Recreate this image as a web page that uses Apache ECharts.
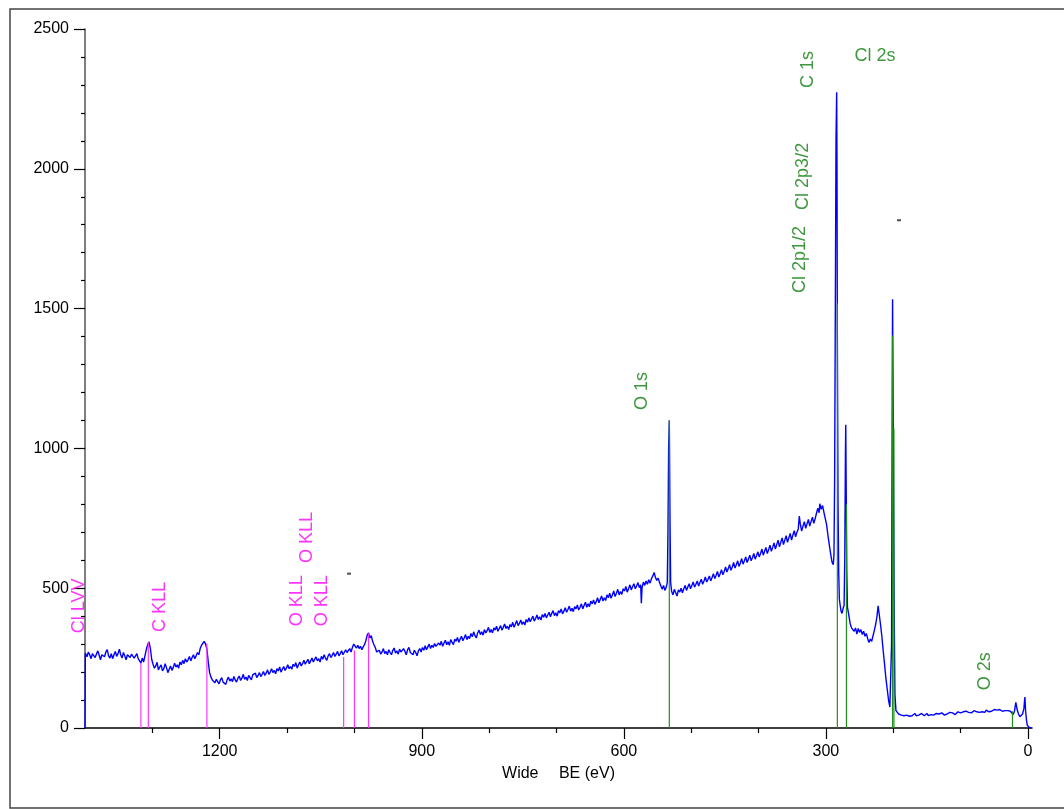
<!DOCTYPE html>
<html><head><meta charset="utf-8">
<script src="https://cdn.jsdelivr.net/npm/echarts@6/dist/echarts.min.js"></script>
<style>html,body{margin:0;padding:0;background:#fff}#c{width:1064px;height:809px}</style>
</head><body><div id="c"></div><script>
// Wide XPS spectrum: [binding energy eV, counts]
const spectrumPoints = [
[1400,0],[1399.5,268],[1397,255],[1395,272],[1393,262],[1391,248],[1389,266],[1387,270],[1385,252],[1383,258],[1381,276],[1379,260],[1377,244],[1375,262],[1373,268],[1371,255],[1369,272],[1367,280],[1365,258],[1363,250],[1361,266],[1359,248],[1357,262],[1355,274],[1353,256],[1351,266],[1349,282],[1347,262],[1345,250],[1343,270],[1341,258],[1339,244],[1337,262],[1335,268],[1333,252],[1331,264],[1329,270],[1327,250],[1325,258],[1323,266],[1321,248],[1319,240],[1317,232],[1315,250],[1313,236],[1311,258],[1309,280],[1307,298],[1305,308],[1303,286],[1301,246],[1299,228],[1297,214],[1295,222],[1293,235],[1291,208],[1289,218],[1287,226],[1285,204],[1283,212],[1281,230],[1279,216],[1277,198],[1275,210],[1273,222],[1271,206],[1269,216],[1267,232],[1265,218],[1263,226],[1261,214],[1259,236],[1257,226],[1255,242],[1253,230],[1251,248],[1249,236],[1247,244],[1245,256],[1243,240],[1241,252],[1239,262],[1237,248],[1235,258],[1233,270],[1231,262],[1229,284],[1227,296],[1225,290],[1223,310],[1221,300],[1219,282],[1217,236],[1215,198],[1213,182],[1211,172],[1209,178],[1207,162],[1205,174],[1203,168],[1201,158],[1199,172],[1197,180],[1195,164],[1193,170],[1191,156],[1189,172],[1187,182],[1185,168],[1183,176],[1181,166],[1179,184],[1177,172],[1175,164],[1173,178],[1171,186],[1169,170],[1167,178],[1165,192],[1163,174],[1161,182],[1159,170],[1157,188],[1155,180],[1153,172],[1151,190],[1149,184],[1147,196],[1145,180],[1143,188],[1141,198],[1139,184],[1137,192],[1135,202],[1133,188],[1131,196],[1129,208],[1127,192],[1125,200],[1123,212],[1121,198],[1119,206],[1117,194],[1115,212],[1113,204],[1111,218],[1109,200],[1107,210],[1105,220],[1103,206],[1101,214],[1099,226],[1097,212],[1095,220],[1093,210],[1091,228],[1089,220],[1087,234],[1085,214],[1083,226],[1081,236],[1079,222],[1077,230],[1075,242],[1073,228],[1071,234],[1069,246],[1067,230],[1065,240],[1063,250],[1061,236],[1059,246],[1057,254],[1055,240],[1053,248],[1051,236],[1049,256],[1047,246],[1045,262],[1043,250],[1041,242],[1039,258],[1037,266],[1035,252],[1033,260],[1031,270],[1029,256],[1027,264],[1025,274],[1023,258],[1021,266],[1019,276],[1017,262],[1015,268],[1013,280],[1011,270],[1009,276],[1007,284],[1005,272],[1003,288],[1001,300],[999,294],[997,286],[995,296],[993,284],[991,292],[989,280],[987,290],[985,298],[983,312],[981,332],[979,340],[977,322],[975,330],[973,310],[971,298],[969,288],[967,272],[965,266],[963,278],[961,264],[959,272],[957,284],[955,266],[953,274],[951,262],[949,280],[947,270],[945,262],[943,278],[941,286],[939,268],[937,276],[935,264],[933,282],[931,272],[929,266],[927,284],[925,274],[923,262],[921,280],[919,288],[917,270],[915,276],[913,262],[911,278],[909,270],[907,258],[905,276],[903,284],[901,272],[899,288],[897,278],[895,294],[893,280],[891,290],[889,300],[887,284],[885,296],[883,288],[881,302],[879,292],[877,286],[875,304],[873,296],[871,310],[869,292],[867,304],[865,314],[863,298],[861,308],[859,296],[857,316],[855,306],[853,298],[851,318],[849,310],[847,324],[845,306],[843,318],[841,328],[839,312],[837,322],[835,334],[833,316],[831,328],[829,320],[827,338],[825,326],[823,344],[821,330],[819,322],[817,340],[815,350],[813,334],[811,344],[809,332],[807,352],[805,340],[803,348],[801,360],[799,342],[797,352],[795,340],[793,358],[791,350],[789,364],[787,346],[785,356],[783,366],[781,350],[779,360],[777,372],[775,356],[773,364],[771,352],[769,370],[767,362],[765,378],[763,360],[761,372],[759,384],[757,366],[755,374],[753,386],[751,370],[749,380],[747,368],[745,388],[743,378],[741,394],[739,380],[737,390],[735,400],[733,382],[731,392],[729,404],[727,388],[725,398],[723,386],[721,406],[719,396],[717,410],[715,394],[713,404],[711,414],[709,398],[707,410],[705,420],[703,402],[701,412],[699,400],[697,420],[695,412],[693,426],[691,408],[689,418],[687,430],[685,414],[683,424],[681,436],[679,418],[677,428],[675,416],[673,434],[671,426],[669,440],[667,422],[665,432],[663,444],[661,426],[659,438],[657,450],[655,432],[653,444],[651,434],[649,454],[647,444],[645,458],[643,442],[641,452],[639,466],[637,448],[635,460],[633,472],[631,454],[629,466],[627,456],[625,476],[623,466],[621,482],[619,464],[617,476],[615,490],[613,470],[611,482],[609,496],[607,476],[605,488],[603,478],[601,498],[599,490],[597,506],[595,486],[593,498],[591,512],[589,494],[587,506],[585,516],[583,498],[581,508],[579,520],[577,502],[575,512],[574,446],[573,500],[571,522],[569,510],[567,526],[565,514],[563,530],[561,518],[559,534],[557,544],[555,556],[553,538],[551,528],[549,536],[547,520],[545,508],[543,496],[541,510],[539,492],[537,504],[535.5,520],[534.5,700],[533.5,1000],[532.5,1100],[531.5,760],[530.5,520],[529,488],[527,476],[525,496],[523,484],[521,472],[519,494],[517,486],[515,500],[513,484],[511,498],[509,510],[507,492],[505,504],[503,516],[501,498],[499,510],[497,522],[495,504],[493,514],[491,526],[489,508],[487,520],[485,532],[483,514],[481,526],[479,540],[477,522],[475,532],[473,544],[471,526],[469,538],[467,552],[465,534],[463,546],[461,560],[459,540],[457,552],[455,566],[453,548],[451,560],[449,576],[447,558],[445,570],[443,584],[441,564],[439,576],[437,592],[435,572],[433,584],[431,598],[429,578],[427,590],[425,606],[423,586],[421,598],[419,612],[417,592],[415,604],[413,618],[411,598],[409,610],[407,624],[405,604],[403,616],[401,630],[399,612],[397,624],[395,640],[393,618],[391,632],[389,646],[387,624],[385,638],[383,654],[381,632],[379,646],[377,662],[375,640],[373,656],[371,672],[369,648],[367,664],[365,680],[363,656],[361,672],[359,688],[357,664],[355,680],[353,696],[351,672],[349,690],[347,706],[345,684],[343,700],[341,712],[339.5,758],[338,730],[336,704],[334,722],[332,738],[330,714],[328,730],[326,746],[324,722],[322,738],[320,754],[318,732],[316,748],[314,768],[312,786],[310,770],[309,802],[307,782],[305,796],[303,772],[301,750],[299,728],[297,690],[295,656],[293,624],[291,594],[289,584],[288,620],[287,900],[286,1500],[285,2100],[284,2274],[283.5,2000],[283,1400],[282,800],[281,560],[280,460],[279,442],[277.5,418],[276,410],[274.5,428],[273,438],[272,600],[271,980],[270.5,1085],[270,900],[269,560],[268,432],[266,404],[264,374],[262,358],[260,364],[258,346],[256,358],[254,336],[252,356],[250,342],[248,352],[246,334],[244,346],[242,328],[240,338],[238,320],[236,306],[234,318],[232,310],[230,330],[228,350],[226,372],[224,402],[222.5,437],[221,410],[219,372],[217,330],[215,278],[213,230],[211,180],[209,140],[207,100],[205,75],[203.5,70],[202.5,300],[201.5,1200],[201,1533],[200.5,1300],[199.5,800],[198.5,400],[197.5,120],[196,62],[194,56],[192,50],[190,54],[188,46],[186,52],[184,44],[182,50],[180,46],[178,52],[176,42],[174,48],[172,44],[170,50],[168,52],[166,44],[164,50],[162,46],[160,44],[158,52],[156,48],[154,44],[152,50],[150,52],[148,44],[146,50],[144,48],[142,54],[140,46],[138,50],[136,52],[134,46],[132,50],[130,48],[128,54],[126,50],[124,46],[122,52],[120,50],[118,48],[116,56],[114,50],[112,54],[110,50],[108,48],[106,54],[104,58],[102,52],[100,54],[98,50],[96,58],[94,54],[92,60],[90,54],[88,56],[86,60],[84,54],[82,56],[80,62],[78,56],[76,58],[74,62],[72,56],[70,60],[68,58],[66,62],[64,56],[62,64],[60,60],[58,58],[56,64],[54,60],[52,62],[50,66],[48,60],[46,64],[44,60],[42,66],[40,62],[38,60],[36,66],[34,62],[32,64],[30,62],[28,64],[26,60],[24,58],[22,48],[20,60],[18,92],[16,65],[14,50],[12,40],[10,38],[8,50],[6,70],[5,100],[4.5,111],[3.5,60],[2,25],[1,10],[0,4],[-2,2],[-5,0]
];
const xMajorTicks = [0, 300, 600, 900, 1200];
const xMinorTicks = [100, 200, 400, 500, 700, 800, 1000, 1100, 1300];
const magentaLineBE = [1317, 1306, 1219, 1016, 1000, 979];
const magentaLineTop = [233, 308, 302, 254, 278, 338];
const greenLineBE = [532.5, 283, 269.5, 201, 199, 23];
const greenLineTop = [1100, 1518, 800, 1404, 1071, 60];
const magentaLabels = ['Cl LVV', 'C KLL', 'O KLL', 'O KLL', 'O KLL'];
const magentaLabelBE = [1409.6, 1288.7, 1085.3, 1070.4, 1048.1];
const magentaLabelY = [339, 343, 364, 590, 364];
const greenLabels = ['O 1s', 'C 1s', 'Cl 2p3/2', 'Cl 2p1/2', 'O 2s'];
const greenLabelBE = [573.5, 326.6, 334, 338.5, 63.8];
const greenLabelY = [1137, 2289, 1853, 1556, 135];
const flatLabels = ['Cl 2s'];
const flatLabelBE = [227.1];
const flatLabelY = [2404];
const dashMarks = [[1008, 552], [191.5, 1816]];

const FONT = 'Liberation Sans, Arial, sans-serif';
const GREEN_TEXT = '#0d7d0d';
const chart = echarts.init(document.getElementById('c'), null, {renderer: 'canvas'});

function vlineSeries(be, top, color) {
  return {
    type: 'custom', xAxisIndex: 0, yAxisIndex: 0, z: 4, silent: true, clip: false,
    data: be.map((b, i) => [b, top[i]]),
    encode: {x: 0, y: 1},
    renderItem: (params, api) => {
      const p0 = api.coord([api.value(0), 0]);
      const p1 = api.coord([api.value(0), api.value(1)]);
      return {type: 'line', shape: {x1: p0[0], y1: p0[1], x2: p1[0], y2: p1[1]},
              style: {stroke: color, lineWidth: 1.2}};
    }
  };
}
function labelSeries(texts, be, ys, color, rotate) {
  return {
    type: 'scatter', xAxisIndex: 0, yAxisIndex: 0, z: 6, silent: true, clip: false,
    symbolSize: 1, itemStyle: {color: 'rgba(0,0,0,0)'},
    data: texts.map((t, i) => ({name: t, value: [be[i], ys[i]]})),
    label: {show: true, position: 'inside', formatter: '{b}', rotate: rotate,
            align: rotate ? 'left' : 'center', verticalAlign: 'middle',
            color: color, fontSize: 18, fontFamily: FONT}
  };
}
const plain = v => String(v);

chart.setOption({
  animation: false,
  backgroundColor: '#fff',
  grid: {left: 85, right: 32, top: 29, bottom: 81, containLabel: false},
  graphic: [{type: 'rect', shape: {x: 10, y: 9, width: 1100, height: 799},
             style: {fill: 'none', stroke: '#444', lineWidth: 1.5}, silent: true, z: 0}],
  xAxis: [{
    type: 'value', inverse: true, min: -6, max: 1400, position: 'bottom',
    name: 'Wide\u3000 BE (eV)', nameLocation: 'middle', nameGap: 38,
    nameTextStyle: {color: '#000', fontSize: 16, fontFamily: FONT},
    axisLine: {show: true, onZero: false, lineStyle: {color: '#000', width: 1.5}},
    axisTick: {show: true, length: 11, customValues: xMajorTicks, lineStyle: {color: '#000', width: 1.2}},
    axisLabel: {show: true, customValues: xMajorTicks, formatter: plain, margin: 16, color: '#000', fontSize: 16, fontFamily: FONT},
    splitLine: {show: false}
  }, {
    type: 'value', inverse: true, min: -6, max: 1400, position: 'bottom',
    axisLine: {show: false, onZero: false},
    axisTick: {show: true, length: 5, customValues: xMinorTicks, lineStyle: {color: '#000', width: 1.2}},
    axisLabel: {show: false},
    splitLine: {show: false}
  }],
  yAxis: {
    type: 'value', min: 0, max: 2500, interval: 500, position: 'left',
    axisLine: {show: true, onZero: false, lineStyle: {color: '#555', width: 1.5}},
    axisTick: {show: true, length: 11, lineStyle: {color: '#000', width: 1.2}},
    minorTick: {show: true, splitNumber: 5, length: 4, lineStyle: {color: '#000', width: 1.2}},
    axisLabel: {margin: 16, formatter: plain, color: '#000', fontSize: 16, fontFamily: FONT},
    splitLine: {show: false}
  },
  series: [
    {type: 'line', name: 'Wide', data: spectrumPoints, showSymbol: false, symbol: 'none',
     sampling: null, z: 3, clip: false,
     lineStyle: {color: '#0000ff', width: 1.4}},
    vlineSeries(magentaLineBE, magentaLineTop, '#ff33ff'),
    vlineSeries(greenLineBE, greenLineTop, '#1f8f1f'),
    labelSeries(magentaLabels, magentaLabelBE, magentaLabelY, '#ff00ff', 90),
    labelSeries(greenLabels, greenLabelBE, greenLabelY, GREEN_TEXT, 90),
    labelSeries(flatLabels, flatLabelBE, flatLabelY, GREEN_TEXT, 0),
    {type: 'scatter', data: dashMarks, symbol: 'rect', symbolSize: [4, 2], z: 5, silent: true,
     itemStyle: {color: '#222'}}
  ]
});
</script></body></html>
